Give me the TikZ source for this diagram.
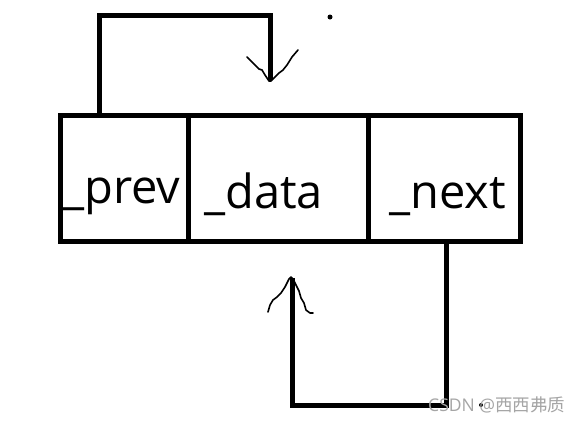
\documentclass[tikz,border=0pt]{standalone}
\usepackage{fontspec}
\setmainfont{Open Sans}
\newfontfamily\cjkfont{Noto Sans CJK SC}
\definecolor{wmgray}{RGB}{165,165,165}
\begin{document}
\begin{tikzpicture}[x=1pt,y=-1pt,
  cell/.style={draw, line width=5pt, minimum height=126pt, inner sep=0pt, outer sep=0pt, anchor=north west},
  label/.style={anchor=base west, inner sep=0pt, font=\fontsize{47}{50}\selectfont},
  link/.style={line width=5pt, line join=miter},
  hand/.style={line width=1.6pt, line join=round, line cap=round}]
\useasboundingbox (0,0) rectangle (580,424);
\fill[white] (0,0) rectangle (580,424);
% cells
\node[cell, minimum width=128.5pt] (prev) at (60,115) {};
\node[cell, minimum width=180pt] (data) at (188.5,115) {};
\node[cell, minimum width=151.5pt] (next) at (368.5,115) {};
% texts
\node[label] (tprev) at (63,203) {\_prev};
\node[label] (tdata) at (204,208) {\_data};
\node[label] (tnext) at (389,208) {\_next};
% top loop
\coordinate (t1) at (99,15);
\coordinate (t2) at (270,15);
\coordinate (t3) at (270,80);
\draw[link] (prev.north -| t1) -- (t1) -- (t2) -- (t3);
\draw[hand] (247,57) -- (252,62) -- (256,66) -- (259,69) -- (262,70) -- (265,75) -- (269,81)
  -- (271,81) -- (275,77) -- (279,73) -- (283,70) -- (287,65) -- (292,57) -- (298,50);
\fill (330,17) circle (2.5pt);
% bottom loop
\coordinate (b1) at (446,405);
\coordinate (b2) at (292,405);
\coordinate (b3) at (292,278);
\draw[link] (next.south -| b1) -- (b1) -- (b2) -- (b3);
\draw[hand] (268,312) -- (270,305) -- (273,300) -- (277,297) -- (281,293) -- (285,287) -- (289,279) -- (291,277)
  -- (293,279) -- (296,285) -- (299,291) -- (301,298) -- (304,303) -- (306,310) -- (310,313) -- (313,313);
\fill (481,405) circle (2pt);
% watermark
\node[anchor=base west, inner sep=0pt, text=wmgray, font=\fontsize{17.5}{19}\selectfont] (wm) at (428,411) {CSDN @\cjkfont 西西弗质};
\end{tikzpicture}
\end{document}
